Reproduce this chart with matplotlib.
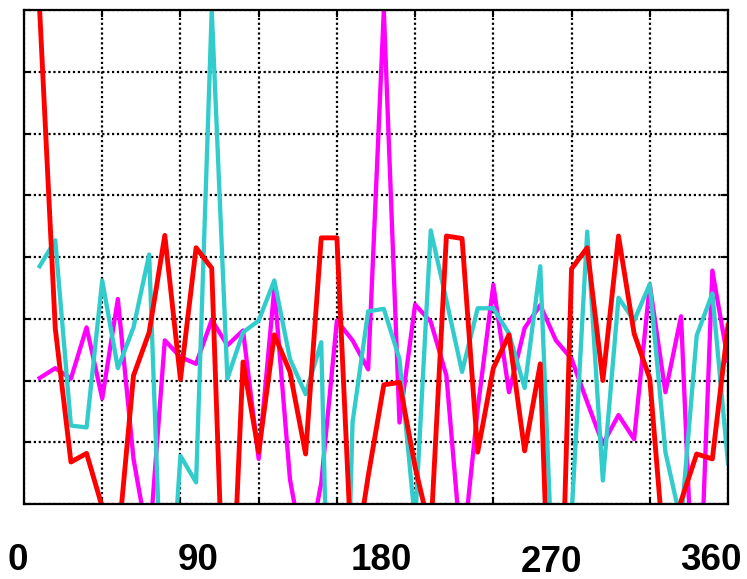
import matplotlib
matplotlib.use("Agg")
import matplotlib.pyplot as plt
import numpy as np

# angle samples, 8 degree steps
angles = np.arange(8, 361, 8)

red_vals = [8.0, 2.84, 0.68, 0.82, -0.05, -0.66, 2.08, 2.78, 4.35, 2.02,
            4.15, 3.82, -3.5, 2.3, 0.84, 2.74, 2.14, 0.81, 4.31, 4.31,
            -1.2, 0.45, 1.93, 1.97, 0.6, -0.48, 4.34, 4.3, 0.84, 2.2,
            2.74, 0.86, 2.27, -5.0, 3.81, 4.15, 2.0, 4.34, 2.76, 2.03,
            -1.05, 0.05, 0.81, 0.73, 2.89]

cyan_vals = [3.85, 4.27, 1.27, 1.24, 3.62, 2.2, 2.86, 4.04, -3.0, 0.78,
             0.35, 8.0, 2.03, 2.78, 2.97, 3.62, 2.35, 1.78, 2.62, -8.0,
             1.32, 3.12, 3.16, 2.35, -0.3, 4.43, 3.3, 2.14, 3.17, 3.17,
             2.76, 1.88, 3.85, -2.5, -0.2, 4.41, 0.38, 3.34, 2.97, 3.56,
             0.84, -0.3, 2.73, 3.41, 0.66]

magenta_vals = [2.04, 2.2, 2.03, 2.86, 1.71, 3.32, 0.73, -0.7, 2.65, 2.38,
                2.27, 2.98, 2.57, 2.81, 0.73, 3.49, 0.4, -1.0, 0.34, 2.97,
                2.65, 2.18, 8.0, 1.32, 3.23, 2.95, 2.08, -0.9, 1.54, 3.55,
                1.81, 2.85, 3.22, 2.65, 2.35, 1.65, 0.97, 1.44, 1.05, 3.55,
                1.81, 3.04, -2.9, 3.78, 2.32]

grid_x = np.arange(0, 361, 40)
grid_y = np.arange(0, 9, 1)

label_vals = [0, 90, 180, 270, 360]
label_text = ["0", "90", "180", "270", "360"]
# pixel nudges of the labels, as in the picture
label_dx = [-6, -2, 5, 0, -17]
label_dy = [-56, -56, -56, -59, -56]

fig = plt.figure(figsize=(7.47, 5.79), dpi=100)
ax = fig.add_axes([24 / 747, 1 - 504 / 579, 704 / 747, 494 / 579])

ax.plot(angles, magenta_vals, color="#ff00ff", lw=3.1, zorder=3)
ax.plot(angles, cyan_vals, color="#33cccc", lw=3.1, zorder=4)
ax.plot(angles, red_vals, color="#ff0000", lw=3.5, zorder=5)

ax.set_xlim(0, 360)
ax.set_ylim(0, 8)
ax.set_xticks(grid_x)
ax.set_yticks(grid_y)
ax.set_xticklabels([])
ax.set_yticklabels([])
ax.grid(True, color="black", linestyle=(0, (1, 1.2)), linewidth=1.6)
ax.tick_params(direction="in", length=5, width=1.5, top=True, right=True,
               colors="black")
for sp in ax.spines.values():
    sp.set_linewidth(1.6)
    sp.set_zorder(6)

for v, t, dx, dy in zip(label_vals, label_text, label_dx, label_dy):
    ax.annotate(t, xy=(v, 0), xycoords=ax.get_xaxis_transform(),
                xytext=(dx, dy), textcoords="offset pixels",
                ha="center", va="center", fontsize=26.5, fontweight="bold",
                family=["Liberation Sans", "DejaVu Sans"], annotation_clip=False)

fig.savefig("out.png", dpi=100)
